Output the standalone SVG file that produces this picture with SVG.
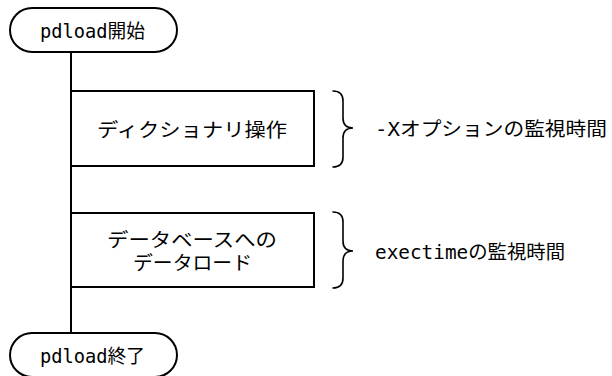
<svg xmlns="http://www.w3.org/2000/svg" width="612" height="376" viewBox="0 0 612 376">
<style>
.s{fill:#fff;stroke:#000;stroke-width:2}
.l{fill:none;stroke:#000;stroke-width:2}
.b{fill:none;stroke:#000;stroke-width:1.6;stroke-linecap:round}
text{font-family:"DejaVu Sans Mono","Noto Sans CJK JP",monospace;font-size:19px;fill:#000;dominant-baseline:central}
</style>
<rect width="612" height="376" fill="#fff"/>
<g id="connectors">
<line class="l" x1="71" y1="52" x2="71" y2="333"/>
</g>
<g id="start">
<rect class="s" x="10" y="8" width="167" height="44" rx="22" ry="22"/>
<text x="40" y="31" textLength="105" lengthAdjust="spacingAndGlyphs">pdload開始</text>
</g>
<g id="dict">
<rect class="s" x="71" y="91" width="243" height="75"/>
<text x="97" y="130" textLength="190" lengthAdjust="spacingAndGlyphs">ディクショナリ操作</text>
</g>
<g id="dataload">
<rect class="s" x="71" y="213" width="243" height="74"/>
<text x="107" y="240" textLength="170" lengthAdjust="spacingAndGlyphs">データベースへの</text>
<text x="133" y="263" textLength="119" lengthAdjust="spacingAndGlyphs">データロード</text>
</g>
<g id="end">
<rect class="s" x="10" y="333" width="167" height="44" rx="22" ry="22"/>
<text x="40" y="356" textLength="105" lengthAdjust="spacingAndGlyphs">pdload終了</text>
</g>
<g id="brace1">
<path class="b" d="M333,91 Q343,91 343,101 L343,118 Q343,128 353,128 Q343,128 343,138 L343,157 Q343,167 333,167"/>
<text x="375" y="129" textLength="232" lengthAdjust="spacingAndGlyphs">-Xオプションの監視時間</text>
</g>
<g id="brace2">
<path class="b" d="M333,212 Q343,212 343,222 L343,241 Q343,251 353,251 Q343,251 343,261 L343,278 Q343,288 333,288"/>
<text x="375" y="252" textLength="190" lengthAdjust="spacingAndGlyphs">exectimeの監視時間</text>
</g>
</svg>
